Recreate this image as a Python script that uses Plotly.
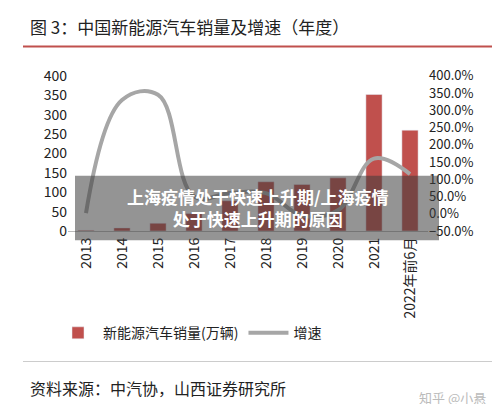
import plotly.graph_objects as go

categories = ["2013","2014","2015","2016","2017","2018","2019","2020","2021","2022年前6月"]
sales = [2, 8, 20, 45, 78, 127, 120, 137, 352, 260]
growth = [2, 330, 345, 50, 60, 60, -5, 10, 160, 115]

fig = go.Figure()
fig.add_trace(go.Bar(x=categories, y=sales, name="新能源汽车销量(万辆)", marker_color="#c0504d", width=0.45, yaxis="y"))
fig.add_trace(go.Scatter(x=categories, y=growth, name="增速", mode="lines", line=dict(color="#a6a6a6", width=4, shape="spline", smoothing=1.1), yaxis="y2"))

font = "Noto Sans CJK SC"
fig.update_layout(
    width=500, height=404, margin=dict(l=0, r=0, t=0, b=0, autoexpand=False),
    paper_bgcolor="white", plot_bgcolor="white",
    font=dict(family=font, color="#222", size=14),
    showlegend=True, bargap=0.5,
    legend=dict(orientation="h", x=0.09, y=0.195, xanchor="left", yanchor="middle", font=dict(size=14), itemwidth=40),
    xaxis=dict(domain=[0.12, 0.84], tickangle=-90, showline=True, linecolor="#bbb", tickfont=dict(size=14), anchor="y", automargin=False),
    yaxis=dict(domain=[0.448, 0.832], range=[0, 400], dtick=50, showgrid=False, tickfont=dict(size=14), automargin=False),
    yaxis2=dict(overlaying="y", side="right", range=[-50, 400], dtick=50, ticksuffix=".0%", showgrid=False, tickfont=dict(size=13), automargin=False),
)
fig.add_annotation(text="图 3：中国新能源汽车销量及增速（年度）", xref="paper", yref="paper", x=0.04, y=0.955, xanchor="left", yanchor="middle", showarrow=False, font=dict(size=17, family=font))
fig.add_shape(type="line", xref="paper", yref="paper", x0=0.03, x1=0.97, y0=0.905, y1=0.905, line=dict(color="#c0504d", width=2))
fig.add_shape(type="line", xref="paper", yref="paper", x0=0.03, x1=0.97, y0=0.125, y1=0.125, line=dict(color="#ccc", width=1))
fig.add_annotation(text="资料来源：中汽协，山西证券研究所", xref="paper", yref="paper", x=0.04, y=0.06, xanchor="left", yanchor="middle", showarrow=False, font=dict(size=16, family=font))
fig.add_annotation(text="知乎 @小悬", xref="paper", yref="paper", x=0.96, y=0.035, xanchor="right", yanchor="middle", showarrow=False, font=dict(size=13, color="#bbb", family=font))
fig.add_shape(type="rect", xref="paper", yref="paper", x0=0.134, x1=0.862, y0=0.425, y1=0.585, fillcolor="rgba(60,60,60,0.55)", line=dict(width=0))
fig.add_annotation(text="<b>上海疫情处于快速上升期/上海疫情<br>处于快速上升期的原因</b>", xref="paper", yref="paper", x=0.5, y=0.505, xanchor="center", yanchor="middle", showarrow=False, font=dict(size=17, color="white", family=font))
fig.write_html("out.html")
